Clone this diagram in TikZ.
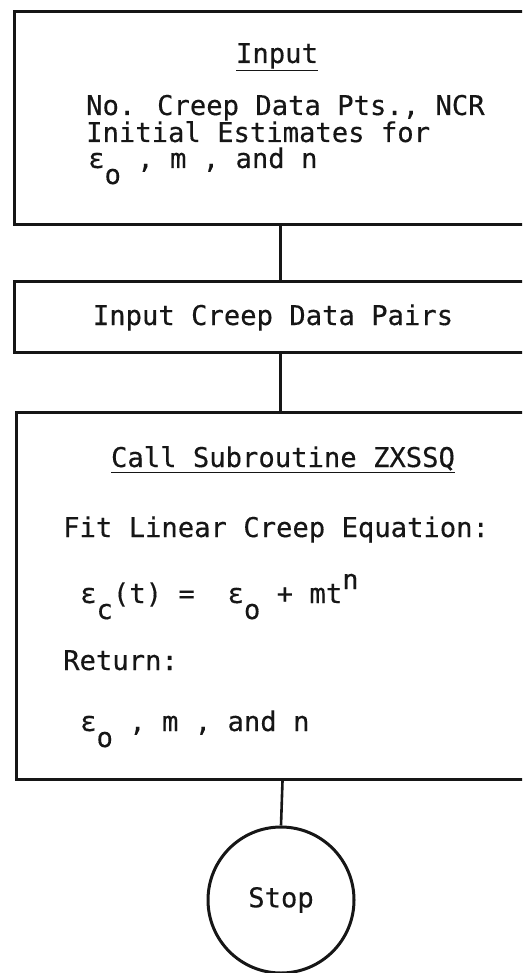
\documentclass[tikz,border=0pt]{standalone}
\usepackage{fontspec}
\setmainfont{DejaVu Sans Mono}[FakeBold=0.35]
\usetikzlibrary{positioning}
\definecolor{fcInk}{HTML}{161616}
\newcommand{\fcfont}{\fontsize{27.2}{30}\selectfont}
\newcommand{\lowr}[1]{\raisebox{-16pt}{#1}}
\newcommand{\highr}[1]{\raisebox{14pt}{#1}}
\tikzset{
  fcbox/.style={rectangle, draw=fcInk, line width=3pt, anchor=north west,
    minimum width=532pt, inner sep=0pt},
  fctext/.style={anchor=base west, inner sep=0pt, text=fcInk, font=\fcfont},
  fctitle/.style={anchor=base, inner sep=0pt, text=fcInk, font=\fcfont},
  fcline/.style={draw=fcInk, line width=2.6pt},
  fcstop/.style={circle, draw=fcInk, line width=3pt, minimum size=146pt,
    inner sep=0pt, text=fcInk, font=\fcfont}
}

\begin{document}
\begin{tikzpicture}[x=1pt, y=-1pt]
  \useasboundingbox (0,0) rectangle (522,973);
  \clip (0,0) rectangle (522,973);

  \node[fcbox, minimum height=213pt] (inbox) at (13,10) {};
  \node[fctitle] (intitle) at (277,63) {\underline{Input}};
  \node[fctext] (inlinea) at (86,115) {No. Creep Data Pts., NCR};
  \node[fctext] (inlineb) at (86,142) {Initial Estimates for};
  \node[fctext] (inlinec) at (88,168) {ε\lowr{o} , m , and n};

  \node[fcbox, minimum height=71pt] (databox) at (13,280) {};
  \node[fctitle] (datatext) at (273,325) {Input Creep Data Pairs};

  \node[fcbox, minimum height=367pt] (fitbox) at (15,411) {};
  \node[fctitle] (fittitle) at (283,467) {\underline{Call Subroutine ZXSSQ}};
  \node[fctext] (fitlinea) at (63,537) {Fit Linear Creep Equation:};
  \node[fctext] (fitlineb) at (80,603) {ε\lowr{c}(t) =~ ε\lowr{o} + mt\highr{n}};
  \node[fctext] (fitlinec) at (63,670) {Return:};
  \node[fctext] (fitlined) at (80,731) {ε\lowr{o} , m , and n};

  \node[fcstop] (stop) at (281,900) {Stop};

  \draw[fcline] (inbox.south) -- (databox.north);
  \draw[fcline] (databox.south) -- (databox.south |- fitbox.north);
  \draw[fcline] (fitbox.south) -- (stop.north);
\end{tikzpicture}
\end{document}
